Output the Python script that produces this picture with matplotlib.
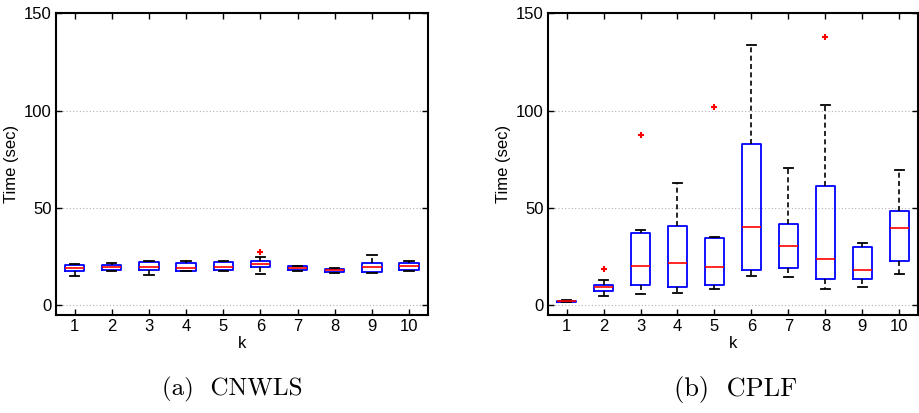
import matplotlib
matplotlib.use('Agg')
import matplotlib.pyplot as plt

# k = 1..10
k_vals = [1, 2, 3, 4, 5, 6, 7, 8, 9, 10]

# (a) CNWLS
a_q1 = [17.7, 18.2, 18.2, 17.9, 18.4, 19.6, 18.2, 17.2, 17.2, 18.4]
a_med = [19.4, 19.7, 19.9, 19.4, 19.9, 21.3, 19.2, 18.0, 19.7, 20.2]
a_q3 = [20.6, 20.9, 22.3, 21.8, 22.1, 22.6, 20.2, 18.9, 21.6, 21.8]
a_lo = [15.0, 17.7, 15.8, 17.7, 17.5, 16.0, 17.7, 16.8, 16.8, 17.7]
a_hi = [21.1, 21.6, 22.6, 22.8, 23.0, 24.8, 20.4, 19.0, 26.0, 22.6]
a_out = [[], [], [], [], [], [27.6], [], [], [], []]

# (b) CPLF
b_q1 = [1.8, 7.5, 10.6, 9.2, 10.7, 18.4, 19.1, 13.6, 13.8, 23.0]
b_med = [2.1, 9.4, 20.3, 21.8, 19.9, 40.4, 30.7, 23.9, 18.1, 39.5]
b_q3 = [2.5, 10.7, 37.1, 40.9, 34.8, 82.8, 41.6, 61.5, 29.8, 48.2]
b_lo = [1.5, 4.8, 5.6, 6.6, 8.5, 15.3, 14.5, 8.2, 9.2, 16.0]
b_hi = [3.0, 12.8, 38.7, 63.0, 34.9, 133.9, 70.7, 102.7, 32.2, 69.5]
b_out = [[], [18.9], [87.6], [], [101.7], [], [], [137.8], [], []]

captions = ['(a)  CNWLS', '(b)  CPLF']


def draw_panel(ax, q1, med, q3, lo, hi, out):
    stats = []
    for i in range(len(k_vals)):
        stats.append(dict(q1=q1[i], med=med[i], q3=q3[i], whislo=lo[i],
                          whishi=hi[i], fliers=out[i]))
    ax.bxp(stats, positions=k_vals, widths=0.52, capwidths=0.25,
           boxprops=dict(color='#0000ff', linewidth=1.3),
           medianprops=dict(color='#ff0000', linewidth=1.2),
           whiskerprops=dict(color='black', linewidth=1.2, linestyle=(0, (3, 2))),
           capprops=dict(color='black', linewidth=1.3),
           flierprops=dict(marker='+', markeredgecolor='#ff0000',
                           markersize=4, markeredgewidth=1.5))
    ax.set_xlim(0.5, 10.5)
    ax.set_ylim(-5, 150)
    ax.set_yticks([0, 50, 100, 150])
    ax.set_xticks(k_vals)
    ax.set_xticklabels([str(k) for k in k_vals])
    ax.yaxis.grid(True, linestyle=(0, (1, 2)), color='#b0b0b0', linewidth=0.8)
    ax.tick_params(direction='in', top=True, right=True, length=4,
                   width=1, labelsize=12, pad=3)
    for s in ax.spines.values():
        s.set_linewidth(1.5)
    ax.set_xlabel('k', fontsize=12, labelpad=1)
    ax.set_ylabel('Time (sec)', fontsize=12, labelpad=4)


plt.rcParams['font.family'] = ['Liberation Sans', 'DejaVu Sans']
fig = plt.figure(figsize=(9.2, 4.13), dpi=100)
ax1 = fig.add_axes([0.0609, 0.237, 0.404, 0.731])
ax2 = fig.add_axes([0.5957, 0.237, 0.402, 0.731])

draw_panel(ax1, a_q1, a_med, a_q3, a_lo, a_hi, a_out)
draw_panel(ax2, b_q1, b_med, b_q3, b_lo, b_hi, b_out)

fig.text(0.252, 0.056, captions[0], ha='center', va='center',
         fontsize=18, family=['cmr10', 'DejaVu Serif'])
fig.text(0.80, 0.056, captions[1], ha='center', va='center',
         fontsize=19, family=['cmr10', 'DejaVu Serif'])

fig.savefig('out.png', dpi=100)
